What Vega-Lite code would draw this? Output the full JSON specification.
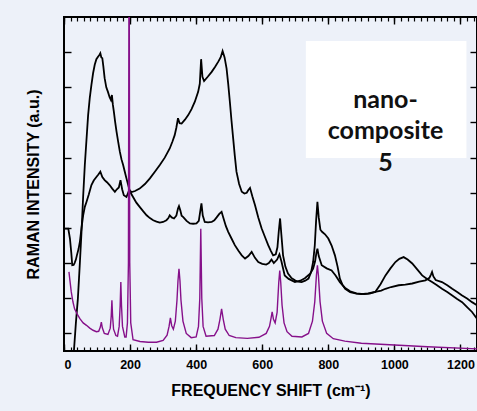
{
  "$schema": "https://vega.github.io/schema/vega-lite/v6.json",
  "width": 413,
  "height": 334,
  "autosize": "none",
  "padding": {"left": 64, "top": 17, "right": 0, "bottom": 60},
  "background": "#edf1f9",
  "config": {
    "view": {"stroke": "#000000", "strokeWidth": 2},
    "axis": {"domain": false, "grid": false, "zindex": 2, "tickColor": "#000000", "labelColor": "#000000", "titleColor": "#000000", "labelFont": "Liberation Sans", "titleFont": "Liberation Sans"}
  },
  "datasets": {
    "black": [
      {"s":"A","x":30,"y":-0.5},{"s":"A","x":36,"y":0.3},{"s":"A","x":42,"y":0.99},{"s":"A","x":48,"y":2.0},{"s":"A","x":53,"y":2.89},{"s":"A","x":58,"y":3.9},{"s":"A","x":63,"y":4.79},{"s":"A","x":68,"y":5.5},{"s":"A","x":73,"y":6.21},{"s":"A","x":78,"y":6.7},{"s":"A","x":83,"y":7.07},{"s":"A","x":88,"y":7.4},{"s":"A","x":93,"y":7.64},{"s":"A","x":98,"y":7.8},{"s":"A","x":103,"y":7.87},{"s":"A","x":107,"y":7.92},{"s":"A","x":110,"y":7.97},{"s":"A","x":113,"y":7.85},{"s":"A","x":116,"y":7.83},{"s":"A","x":119,"y":7.6},{"s":"A","x":123,"y":7.26},{"s":"A","x":128,"y":7.0},{"s":"A","x":133,"y":6.87},{"s":"A","x":138,"y":6.72},{"s":"A","x":142,"y":6.64},{"s":"A","x":145,"y":6.78},{"s":"A","x":148,"y":6.5},{"s":"A","x":151,"y":6.3},{"s":"A","x":155,"y":6.0},{"s":"A","x":159,"y":5.74},{"s":"A","x":164,"y":5.45},{"s":"A","x":169,"y":5.17},{"s":"A","x":174,"y":4.95},{"s":"A","x":179,"y":4.79},{"s":"A","x":184,"y":4.6},{"s":"A","x":189,"y":4.41},{"s":"A","x":197,"y":4.12},{"s":"A","x":203,"y":3.98},{"s":"A","x":209,"y":3.88},{"s":"A","x":219,"y":3.72},{"s":"A","x":229,"y":3.6},{"s":"A","x":240,"y":3.47},{"s":"A","x":250,"y":3.36},{"s":"A","x":260,"y":3.28},{"s":"A","x":270,"y":3.22},{"s":"A","x":280,"y":3.18},{"s":"A","x":290,"y":3.15},{"s":"A","x":300,"y":3.17},{"s":"A","x":310,"y":3.22},{"s":"A","x":316,"y":3.28},{"s":"A","x":320,"y":3.36},{"s":"A","x":326,"y":3.3},{"s":"A","x":333,"y":3.27},{"s":"A","x":340,"y":3.35},{"s":"A","x":345,"y":3.55},{"s":"A","x":348,"y":3.62},{"s":"A","x":352,"y":3.5},{"s":"A","x":356,"y":3.35},{"s":"A","x":361,"y":3.31},{"s":"A","x":371,"y":3.2},{"s":"A","x":381,"y":3.13},{"s":"A","x":391,"y":3.12},{"s":"A","x":401,"y":3.13},{"s":"A","x":408,"y":3.2},{"s":"A","x":412,"y":3.45},{"s":"A","x":416,"y":3.7},{"s":"A","x":420,"y":3.35},{"s":"A","x":426,"y":3.17},{"s":"A","x":436,"y":3.16},{"s":"A","x":447,"y":3.17},{"s":"A","x":455,"y":3.22},{"s":"A","x":462,"y":3.3},{"s":"A","x":470,"y":3.4},{"s":"A","x":477,"y":3.46},{"s":"A","x":482,"y":3.3},{"s":"A","x":490,"y":3.05},{"s":"A","x":497,"y":2.89},{"s":"A","x":507,"y":2.7},{"s":"A","x":517,"y":2.51},{"s":"A","x":528,"y":2.35},{"s":"A","x":538,"y":2.22},{"s":"A","x":548,"y":2.13},{"s":"A","x":558,"y":2.2},{"s":"A","x":568,"y":2.32},{"s":"A","x":578,"y":2.15},{"s":"A","x":588,"y":2.03},{"s":"A","x":600,"y":1.98},{"s":"A","x":612,"y":1.96},{"s":"A","x":620,"y":2.0},{"s":"A","x":628,"y":2.1},{"s":"A","x":635,"y":2.0},{"s":"A","x":645,"y":2.1},{"s":"A","x":652,"y":2.25},{"s":"A","x":658,"y":2.05},{"s":"A","x":668,"y":1.65},{"s":"A","x":680,"y":1.55},{"s":"A","x":699,"y":1.46},{"s":"A","x":715,"y":1.5},{"s":"A","x":729,"y":1.57},{"s":"A","x":745,"y":1.7},{"s":"A","x":754,"y":1.84},{"s":"A","x":760,"y":2.05},{"s":"A","x":764,"y":2.3},{"s":"A","x":767,"y":2.41},{"s":"A","x":771,"y":2.2},{"s":"A","x":780,"y":1.94},{"s":"A","x":795,"y":1.85},{"s":"A","x":810,"y":1.79},{"s":"A","x":822,"y":1.65},{"s":"A","x":835,"y":1.46},{"s":"A","x":850,"y":1.3},{"s":"A","x":866,"y":1.2},{"s":"A","x":885,"y":1.14},{"s":"A","x":908,"y":1.12},{"s":"A","x":925,"y":1.13},{"s":"A","x":942,"y":1.18},{"s":"A","x":958,"y":1.4},{"s":"A","x":973,"y":1.65},{"s":"A","x":988,"y":1.85},{"s":"A","x":1003,"y":2.03},{"s":"A","x":1015,"y":2.12},{"s":"A","x":1028,"y":2.17},{"s":"A","x":1040,"y":2.1},{"s":"A","x":1054,"y":1.99},{"s":"A","x":1069,"y":1.82},{"s":"A","x":1084,"y":1.65},{"s":"A","x":1099,"y":1.55},{"s":"A","x":1114,"y":1.46},{"s":"A","x":1129,"y":1.37},{"s":"A","x":1144,"y":1.27},{"s":"A","x":1160,"y":1.18},{"s":"A","x":1175,"y":1.08},{"s":"A","x":1190,"y":0.98},{"s":"A","x":1205,"y":0.89},{"s":"A","x":1220,"y":0.75},{"s":"A","x":1235,"y":0.61},{"s":"A","x":1250,"y":0.42},
      {"s":"B","x":3,"y":2.98},{"s":"B","x":13,"y":2.98},{"s":"B","x":18,"y":2.7},{"s":"B","x":22,"y":2.3},{"s":"B","x":25,"y":1.94},{"s":"B","x":29,"y":1.95},{"s":"B","x":32,"y":2.0},{"s":"B","x":36,"y":2.1},{"s":"B","x":39,"y":2.22},{"s":"B","x":44,"y":2.4},{"s":"B","x":48,"y":2.6},{"s":"B","x":53,"y":3.0},{"s":"B","x":58,"y":3.36},{"s":"B","x":63,"y":3.6},{"s":"B","x":68,"y":3.74},{"s":"B","x":75,"y":3.95},{"s":"B","x":83,"y":4.22},{"s":"B","x":90,"y":4.35},{"s":"B","x":98,"y":4.45},{"s":"B","x":104,"y":4.52},{"s":"B","x":110,"y":4.6},{"s":"B","x":116,"y":4.45},{"s":"B","x":123,"y":4.36},{"s":"B","x":130,"y":4.3},{"s":"B","x":138,"y":4.22},{"s":"B","x":146,"y":4.12},{"s":"B","x":154,"y":4.03},{"s":"B","x":160,"y":4.1},{"s":"B","x":166,"y":4.15},{"s":"B","x":171,"y":4.36},{"s":"B","x":176,"y":4.1},{"s":"B","x":181,"y":3.93},{"s":"B","x":189,"y":3.88},{"s":"B","x":197,"y":4.07},{"s":"B","x":205,"y":4.02},{"s":"B","x":215,"y":4.05},{"s":"B","x":229,"y":4.12},{"s":"B","x":245,"y":4.25},{"s":"B","x":260,"y":4.41},{"s":"B","x":275,"y":4.6},{"s":"B","x":290,"y":4.79},{"s":"B","x":305,"y":5.0},{"s":"B","x":320,"y":5.26},{"s":"B","x":328,"y":5.45},{"s":"B","x":335,"y":5.64},{"s":"B","x":340,"y":5.85},{"s":"B","x":345,"y":6.12},{"s":"B","x":350,"y":5.98},{"s":"B","x":356,"y":5.97},{"s":"B","x":366,"y":6.08},{"s":"B","x":376,"y":6.21},{"s":"B","x":386,"y":6.38},{"s":"B","x":396,"y":6.59},{"s":"B","x":406,"y":6.87},{"s":"B","x":411,"y":7.1},{"s":"B","x":415,"y":7.8},{"s":"B","x":419,"y":7.3},{"s":"B","x":424,"y":7.18},{"s":"B","x":435,"y":7.3},{"s":"B","x":447,"y":7.44},{"s":"B","x":457,"y":7.58},{"s":"B","x":467,"y":7.73},{"s":"B","x":474,"y":7.85},{"s":"B","x":480,"y":8.03},{"s":"B","x":486,"y":7.85},{"s":"B","x":492,"y":7.54},{"s":"B","x":497,"y":7.1},{"s":"B","x":502,"y":6.59},{"s":"B","x":507,"y":6.05},{"s":"B","x":512,"y":5.55},{"s":"B","x":517,"y":5.05},{"s":"B","x":522,"y":4.6},{"s":"B","x":530,"y":4.25},{"s":"B","x":538,"y":4.03},{"s":"B","x":546,"y":3.98},{"s":"B","x":553,"y":4.0},{"s":"B","x":558,"y":4.08},{"s":"B","x":563,"y":4.14},{"s":"B","x":570,"y":3.9},{"s":"B","x":578,"y":3.65},{"s":"B","x":588,"y":3.3},{"s":"B","x":598,"y":2.99},{"s":"B","x":608,"y":2.75},{"s":"B","x":618,"y":2.51},{"s":"B","x":626,"y":2.35},{"s":"B","x":633,"y":2.22},{"s":"B","x":641,"y":2.25},{"s":"B","x":646,"y":2.45},{"s":"B","x":650,"y":2.9},{"s":"B","x":654,"y":3.27},{"s":"B","x":658,"y":2.8},{"s":"B","x":663,"y":2.22},{"s":"B","x":670,"y":1.9},{"s":"B","x":678,"y":1.7},{"s":"B","x":688,"y":1.58},{"s":"B","x":699,"y":1.51},{"s":"B","x":709,"y":1.47},{"s":"B","x":719,"y":1.46},{"s":"B","x":730,"y":1.5},{"s":"B","x":740,"y":1.56},{"s":"B","x":748,"y":1.75},{"s":"B","x":754,"y":2.03},{"s":"B","x":759,"y":2.5},{"s":"B","x":763,"y":3.2},{"s":"B","x":767,"y":3.74},{"s":"B","x":771,"y":3.3},{"s":"B","x":776,"y":2.95},{"s":"B","x":781,"y":2.89},{"s":"B","x":790,"y":2.82},{"s":"B","x":800,"y":2.7},{"s":"B","x":810,"y":2.5},{"s":"B","x":820,"y":2.22},{"s":"B","x":828,"y":1.9},{"s":"B","x":835,"y":1.56},{"s":"B","x":843,"y":1.38},{"s":"B","x":851,"y":1.27},{"s":"B","x":866,"y":1.17},{"s":"B","x":885,"y":1.13},{"s":"B","x":900,"y":1.12},{"s":"B","x":920,"y":1.14},{"s":"B","x":942,"y":1.18},{"s":"B","x":960,"y":1.22},{"s":"B","x":973,"y":1.27},{"s":"B","x":990,"y":1.32},{"s":"B","x":1013,"y":1.37},{"s":"B","x":1033,"y":1.39},{"s":"B","x":1054,"y":1.42},{"s":"B","x":1075,"y":1.47},{"s":"B","x":1094,"y":1.51},{"s":"B","x":1106,"y":1.58},{"s":"B","x":1111,"y":1.68},{"s":"B","x":1114,"y":1.75},{"s":"B","x":1118,"y":1.62},{"s":"B","x":1125,"y":1.52},{"s":"B","x":1144,"y":1.46},{"s":"B","x":1160,"y":1.37},{"s":"B","x":1175,"y":1.27},{"s":"B","x":1190,"y":1.18},{"s":"B","x":1205,"y":1.08},{"s":"B","x":1220,"y":0.99},{"s":"B","x":1235,"y":0.89},{"s":"B","x":1250,"y":0.8}
    ],
    "purple": [
      {"x":15,"y":1.75},{"x":18,"y":1.5},{"x":22,"y":1.18},{"x":27,"y":0.9},{"x":32,"y":0.7},{"x":40,"y":0.55},{"x":48,"y":0.42},{"x":58,"y":0.3},{"x":68,"y":0.23},{"x":78,"y":0.15},{"x":88,"y":0.09},{"x":98,"y":0.05},{"x":105,"y":0.06},{"x":110,"y":0.18},{"x":113,"y":0.32},{"x":116,"y":0.16},{"x":122,"y":0.0},{"x":133,"y":-0.03},{"x":140,"y":0.15},{"x":143,"y":0.5},{"x":145,"y":0.94},{"x":147,"y":0.5},{"x":150,"y":0.12},{"x":157,"y":-0.06},{"x":162,"y":-0.08},{"x":167,"y":0.2},{"x":170,"y":0.8},{"x":172,"y":1.46},{"x":174,"y":0.8},{"x":177,"y":0.2},{"x":184,"y":-0.1},{"x":188,"y":-0.1},{"x":192,"y":0.3},{"x":195,"y":2.0},{"x":197,"y":12},{"x":199,"y":2.0},{"x":202,"y":0.3},{"x":209,"y":-0.18},{"x":230,"y":-0.23},{"x":255,"y":-0.25},{"x":280,"y":-0.25},{"x":300,"y":-0.2},{"x":312,"y":-0.05},{"x":318,"y":0.2},{"x":322,"y":0.44},{"x":326,"y":0.22},{"x":331,"y":0.12},{"x":337,"y":0.35},{"x":342,"y":0.95},{"x":345,"y":1.5},{"x":348,"y":1.84},{"x":351,"y":1.5},{"x":354,"y":0.95},{"x":360,"y":0.35},{"x":370,"y":0.0},{"x":385,"y":-0.12},{"x":400,"y":-0.1},{"x":407,"y":0.2},{"x":411,"y":1.0},{"x":414,"y":2.98},{"x":417,"y":1.0},{"x":421,"y":0.2},{"x":430,"y":-0.08},{"x":455,"y":-0.06},{"x":466,"y":0.12},{"x":472,"y":0.4},{"x":477,"y":0.7},{"x":482,"y":0.4},{"x":488,"y":0.12},{"x":500,"y":-0.06},{"x":520,"y":-0.12},{"x":555,"y":-0.14},{"x":590,"y":-0.11},{"x":612,"y":0.0},{"x":622,"y":0.2},{"x":627,"y":0.45},{"x":630,"y":0.61},{"x":634,"y":0.4},{"x":639,"y":0.3},{"x":645,"y":0.6},{"x":650,"y":1.45},{"x":653,"y":1.79},{"x":656,"y":1.45},{"x":660,"y":0.8},{"x":666,"y":0.3},{"x":675,"y":0.05},{"x":690,"y":-0.08},{"x":720,"y":-0.1},{"x":740,"y":0.0},{"x":752,"y":0.35},{"x":759,"y":0.9},{"x":764,"y":1.65},{"x":767,"y":1.94},{"x":770,"y":1.65},{"x":775,"y":0.9},{"x":782,"y":0.35},{"x":795,"y":0.0},{"x":815,"y":-0.15},{"x":850,"y":-0.22},{"x":900,"y":-0.28},{"x":1000,"y":-0.33},{"x":1100,"y":-0.38},{"x":1250,"y":-0.44}
    ]
  },
  "layer": [
    {
      "data": {"values": [{}]},
      "mark": {"type": "rect", "fill": "#ffffff"},
      "encoding": {
        "x": {"datum": 732, "type": "quantitative",
          "scale": {"domain": [0, 1250], "nice": false, "zero": false},
          "axis": {"orient": "bottom", "values": [0,200,400,600,800,1000,1200], "format": "d", "tickSize": -7, "tickWidth": 1.4, "labelPadding": 14, "labelFontSize": 12.5, "labelFontWeight": "bold", "title": "FREQUENCY SHIFT (cm⁻¹)", "titleFontSize": 16, "titleFontWeight": "bold", "titlePadding": 12}},
        "x2": {"datum": 1218},
        "y": {"datum": 8.32, "type": "quantitative",
          "scale": {"domain": [-0.5, 9], "nice": false, "zero": false},
          "axis": {"orient": "left", "values": [0,1,2,3,4,5,6,7,8], "tickSize": -7, "tickWidth": 1.4, "labels": false, "title": "RAMAN INTENSITY (a.u.)", "titleFontSize": 16, "titleFontWeight": "bold", "titlePadding": 22}},
        "y2": {"datum": 4.99}
      }
    },
    {
      "data": {"name": "black"},
      "mark": {"type": "line", "clip": true, "color": "#000000", "strokeWidth": 1.8},
      "encoding": {
        "x": {"field": "x", "type": "quantitative",
          "scale": {"domain": [0, 1250], "nice": false, "zero": false},
          "axis": {"orient": "top", "values": [0,200,400,600,800,1000,1200], "tickSize": -7, "tickWidth": 1.4, "labels": false, "title": null}},
        "y": {"field": "y", "type": "quantitative",
          "scale": {"domain": [-0.5, 9], "nice": false, "zero": false},
          "axis": {"orient": "right", "values": [0,1,2,3,4,5,6,7,8], "tickSize": -7, "tickWidth": 1.4, "labels": false, "title": null}},
        "detail": {"field": "s", "type": "nominal"}
      }
    },
    {
      "data": {"name": "purple"},
      "mark": {"type": "line", "clip": true, "color": "#86108a", "strokeWidth": 1.4},
      "encoding": {
        "x": {"field": "x", "type": "quantitative",
          "scale": {"domain": [0, 1250], "nice": false, "zero": false},
          "axis": {"orient": "bottom", "values": [0,20,40,60,80,100,120,140,160,180,200,220,240,260,280,300,320,340,360,380,400,420,440,460,480,500,520,540,560,580,600,620,640,660,680,700,720,740,760,780,800,820,840,860,880,900,920,940,960,980,1000,1020,1040,1060,1080,1100,1120,1140,1160,1180,1200,1220,1240], "tickSize": -4, "tickWidth": 1.2, "labels": false, "title": null}},
        "y": {"field": "y", "type": "quantitative",
          "scale": {"domain": [-0.5, 9], "nice": false, "zero": false},
          "axis": null}
      }
    },
    {
      "data": {"values": [{}]},
      "mark": {"type": "text", "text": ["nano-", "composite", "5"], "font": "Lato", "fontSize": 25, "fontWeight": "bold", "lineHeight": 31.5, "align": "center", "baseline": "middle", "color": "#111111"},
      "encoding": {
        "x": {"datum": 973, "type": "quantitative",
          "scale": {"domain": [0, 1250], "nice": false, "zero": false},
          "axis": {"orient": "top", "values": [0,20,40,60,80,100,120,140,160,180,200,220,240,260,280,300,320,340,360,380,400,420,440,460,480,500,520,540,560,580,600,620,640,660,680,700,720,740,760,780,800,820,840,860,880,900,920,940,960,980,1000,1020,1040,1060,1080,1100,1120,1140,1160,1180,1200,1220,1240], "tickSize": -4, "tickWidth": 1.2, "labels": false, "title": null}},
        "y": {"datum": 6.64, "type": "quantitative",
          "scale": {"domain": [-0.5, 9], "nice": false, "zero": false},
          "axis": null}
      }
    }
  ],
  "resolve": {"axis": {"x": "independent", "y": "independent"}}
}
